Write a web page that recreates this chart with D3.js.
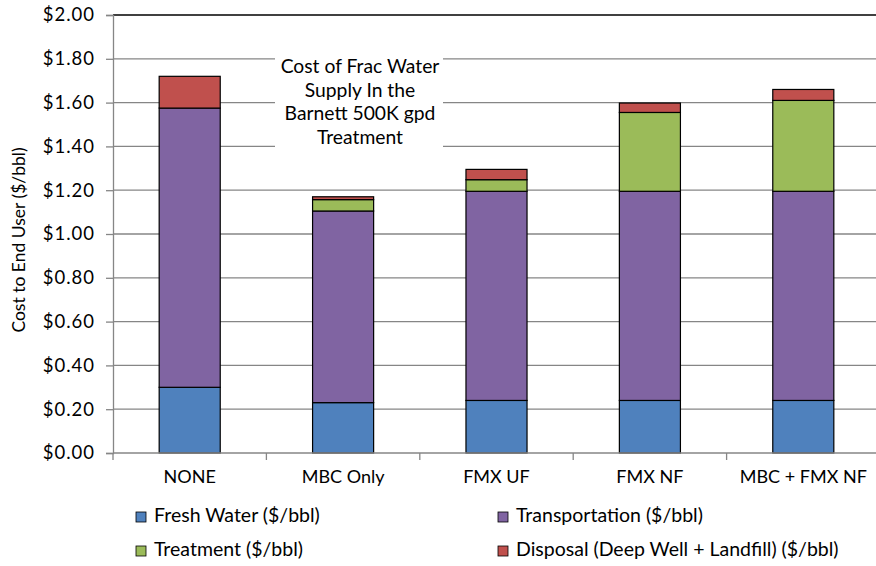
<!DOCTYPE html>
<html>
<head>
<meta charset="utf-8">
<script src="https://cdn.jsdelivr.net/npm/d3@7"></script>
<style>
  html, body { margin: 0; padding: 0; background: #fff; }
  svg { display: block; font-family: "Lato", "Open Sans", sans-serif; }
</style>
</head>
<body>
<svg id="chart" width="876" height="566"></svg>
<script>
// Cost components per treatment option ($/bbl)
const categories = ["NONE", "MBC Only", "FMX UF", "FMX NF", "MBC + FMX NF"];
const freshWater     = [0.30, 0.23, 0.24, 0.24, 0.24];
const transportation = [1.275, 0.875, 0.955, 0.955, 0.955];
const treatment      = [0.00, 0.052, 0.053, 0.36, 0.415];
const disposal       = [0.145, 0.013, 0.047, 0.043, 0.05];
const seriesNames = [
  "Fresh Water ($/bbl)",
  "Transportation ($/bbl)",
  "Treatment ($/bbl)",
  "Disposal (Deep Well + Landfill) ($/bbl)"
];
const seriesColors = ["#4F81BD", "#8064A2", "#9BBB59", "#C0504D"];
const yTicks = [0, 0.2, 0.4, 0.6, 0.8, 1.0, 1.2, 1.4, 1.6, 1.8, 2.0];
const titleLines = ["Cost of Frac Water", "Supply In the", "Barnett 500K gpd", "Treatment"];

const keys = ["fresh", "transport", "treat", "disp"];
const rows = categories.map((c, i) => ({
  cat: c,
  fresh: freshWater[i],
  transport: transportation[i],
  treat: treatment[i],
  disp: disposal[i]
}));

const svg = d3.select("#chart");
const plot = { left: 113, right: 880, top: 15, bottom: 453 };

const x = d3.scaleBand()
  .domain(categories)
  .range([plot.left, plot.right])
  .paddingInner(0.602)
  .paddingOuter(0.301);

const y = d3.scaleLinear().domain([0, 2]).range([plot.bottom, plot.top]);

// horizontal gridlines
svg.append("g")
  .selectAll("line")
  .data(yTicks.filter(d => d > 0 && d < 2))
  .join("line")
  .attr("x1", plot.left).attr("x2", plot.right)
  .attr("y1", d => y(d)).attr("y2", d => y(d))
  .attr("stroke", "#868686").attr("stroke-width", 1.3);

// top border
svg.append("line")
  .attr("x1", plot.left).attr("x2", plot.right)
  .attr("y1", y(2)).attr("y2", y(2))
  .attr("stroke", "#000").attr("stroke-width", 1.3);

// y axis
const yAxis = d3.axisLeft(y)
  .tickValues(yTicks)
  .tickSize(7)
  .tickPadding(11)
  .tickFormat(d => "$" + d3.format(".2f")(d));
const gy = svg.append("g")
  .attr("transform", `translate(${plot.left},0)`)
  .call(yAxis);
gy.select(".domain").attr("stroke", "#868686").attr("stroke-width", 1.3);
gy.selectAll(".tick line").attr("stroke", "#868686").attr("stroke-width", 1.3);
gy.selectAll(".tick text")
  .attr("font-family", "Lato, sans-serif")
  .attr("font-size", 18.5)
  .attr("letter-spacing", 1)
  .attr("fill", "#000");

// y axis title
svg.append("text")
  .attr("transform", "translate(25,240) rotate(-90)")
  .attr("text-anchor", "middle")
  .attr("font-size", 17.5)
  .attr("fill", "#000")
  .text("Cost to End User ($/bbl)");

// stacked bars
const stack = d3.stack().keys(keys)(rows);
svg.append("g")
  .selectAll("g")
  .data(stack)
  .join("g")
  .attr("fill", (d, i) => seriesColors[i])
  .selectAll("rect")
  .data(d => d.filter(s => s[1] - s[0] > 0))
  .join("rect")
  .attr("x", d => x(d.data.cat))
  .attr("width", x.bandwidth())
  .attr("y", d => y(d[1]))
  .attr("height", d => y(d[0]) - y(d[1]))
  .attr("stroke", "#000")
  .attr("stroke-width", 1.2);

// x axis
const gx = svg.append("g").attr("transform", `translate(0,${plot.bottom})`);
gx.append("line")
  .attr("x1", plot.left).attr("x2", plot.right)
  .attr("stroke", "#868686").attr("stroke-width", 1.3);
const bounds = categories.map(c => x(c) - x.step() * x.paddingInner() / 2);
bounds.push(plot.right);
gx.selectAll(".tk")
  .data(bounds)
  .join("line")
  .attr("class", "tk")
  .attr("x1", d => d).attr("x2", d => d)
  .attr("y1", 0).attr("y2", 7)
  .attr("stroke", "#868686").attr("stroke-width", 1.3);
gx.selectAll(".lbl")
  .data(categories)
  .join("text")
  .attr("class", "lbl")
  .attr("x", d => x(d) + x.bandwidth() / 2)
  .attr("y", 30)
  .attr("text-anchor", "middle")
  .attr("font-size", 18)
  .attr("fill", "#000")
  .text(d => d);

// chart title box
const tb = svg.append("g");
tb.append("rect")
  .attr("x", 275).attr("y", 48).attr("width", 168).attr("height", 104)
  .attr("fill", "#fff");
tb.selectAll("text")
  .data(titleLines)
  .join("text")
  .attr("x", 360)
  .attr("y", (d, i) => 73 + i * 23.5)
  .attr("text-anchor", "middle")
  .attr("font-size", 19.3)
  .attr("fill", "#000")
  .text(d => d);

// legend
const legendPos = [[136, 522], [498, 522], [136, 556], [498, 556]];
const lg = svg.append("g")
  .selectAll("g")
  .data(seriesNames)
  .join("g")
  .attr("transform", (d, i) => `translate(${legendPos[i][0]},${legendPos[i][1]})`);
lg.append("rect")
  .attr("x", 0).attr("y", -10).attr("width", 10).attr("height", 10)
  .attr("fill", (d, i) => seriesColors[i])
  .attr("stroke", "#000").attr("stroke-width", 0.8);
lg.append("text")
  .attr("x", 18).attr("y", 0)
  .attr("font-size", 19.5)
  .attr("fill", "#000")
  .text(d => d);
</script>
</body>
</html>
